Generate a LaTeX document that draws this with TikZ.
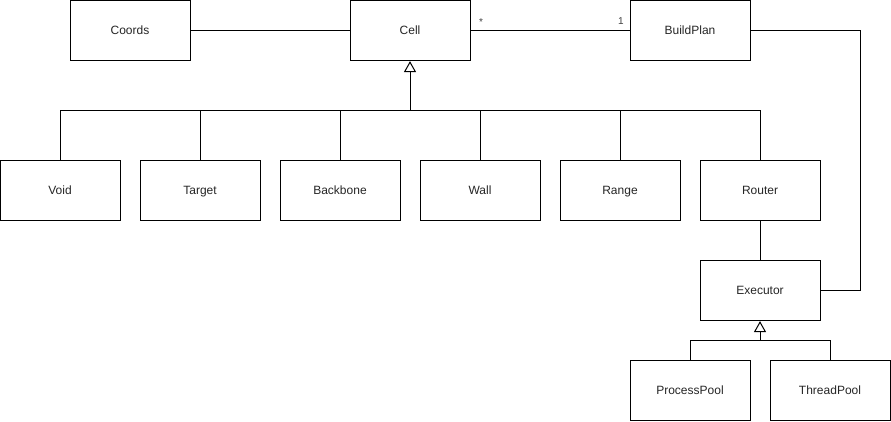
\documentclass[tikz,border=0pt]{standalone}
\usepackage{fontspec}
\setmainfont{Liberation Sans}
\usetikzlibrary{arrows.meta}
\begin{document}
\begin{tikzpicture}[x=1pt,y=-1pt,
  cls/.style={draw=black,line width=1pt,fill=white,minimum width=120pt,minimum height=60pt,inner sep=0pt,font=\fontsize{12}{14}\selectfont,text=black!85,text height=8.6pt,text depth=0pt},
  conn/.style={draw=black,line width=1pt},
  inh/.style={conn,-{Triangle[open,length=11pt,width=12pt,line width=1pt]}},
  lbl/.style={font=\fontsize{10}{12}\selectfont,text=black!75,inner sep=0pt}]
\useasboundingbox (0,-0.6) rectangle (891,421.4);
\node[cls] (coords) at (130,30) {Coords};
\node[cls] (cell) at (410,30) {Cell};
\node[cls] (build) at (690,30) {BuildPlan};
\node[cls] (void) at (60,190) {Void};
\node[cls] (target) at (200,190) {Target};
\node[cls] (backbone) at (340,190) {Backbone};
\node[cls] (wall) at (480,190) {Wall};
\node[cls] (range) at (620,190) {Range};
\node[cls] (router) at (760,190) {Router};
\node[cls] (exec) at (760,290) {Executor};
\node[cls] (pp) at (690,390) {ProcessPool};
\node[cls] (tp) at (830,390) {ThreadPool};
\coordinate (hub) at (410,110);
\coordinate (hub2) at (760,340);
\coordinate (bpr) at (860,30);
\coordinate (exr) at (860,290);
% associations
\draw[conn] (coords) -- (cell);
\draw[conn] (cell) -- (build);
\node[lbl] (star) at (481,21) {*};
\node[lbl] (one) at (621,20) {1};
\draw[conn] (build.east) -- (bpr) -- (exr) -- (exec.east);
\draw[conn] (router) -- (exec);
% inheritance from Cell
\draw[conn] (void.north) |- (hub);
\draw[conn] (router.north) |- (hub);
\draw[conn] (target.north) -- (target.north |- hub);
\draw[conn] (backbone.north) -- (backbone.north |- hub);
\draw[conn] (wall.north) -- (wall.north |- hub);
\draw[conn] (range.north) -- (range.north |- hub);
\draw[inh] (hub) -- (cell.south);
% inheritance from Executor
\draw[conn] (pp.north) |- (hub2);
\draw[conn] (tp.north) |- (hub2);
\draw[inh] (hub2) -- (exec.south);
\end{tikzpicture}
\end{document}
